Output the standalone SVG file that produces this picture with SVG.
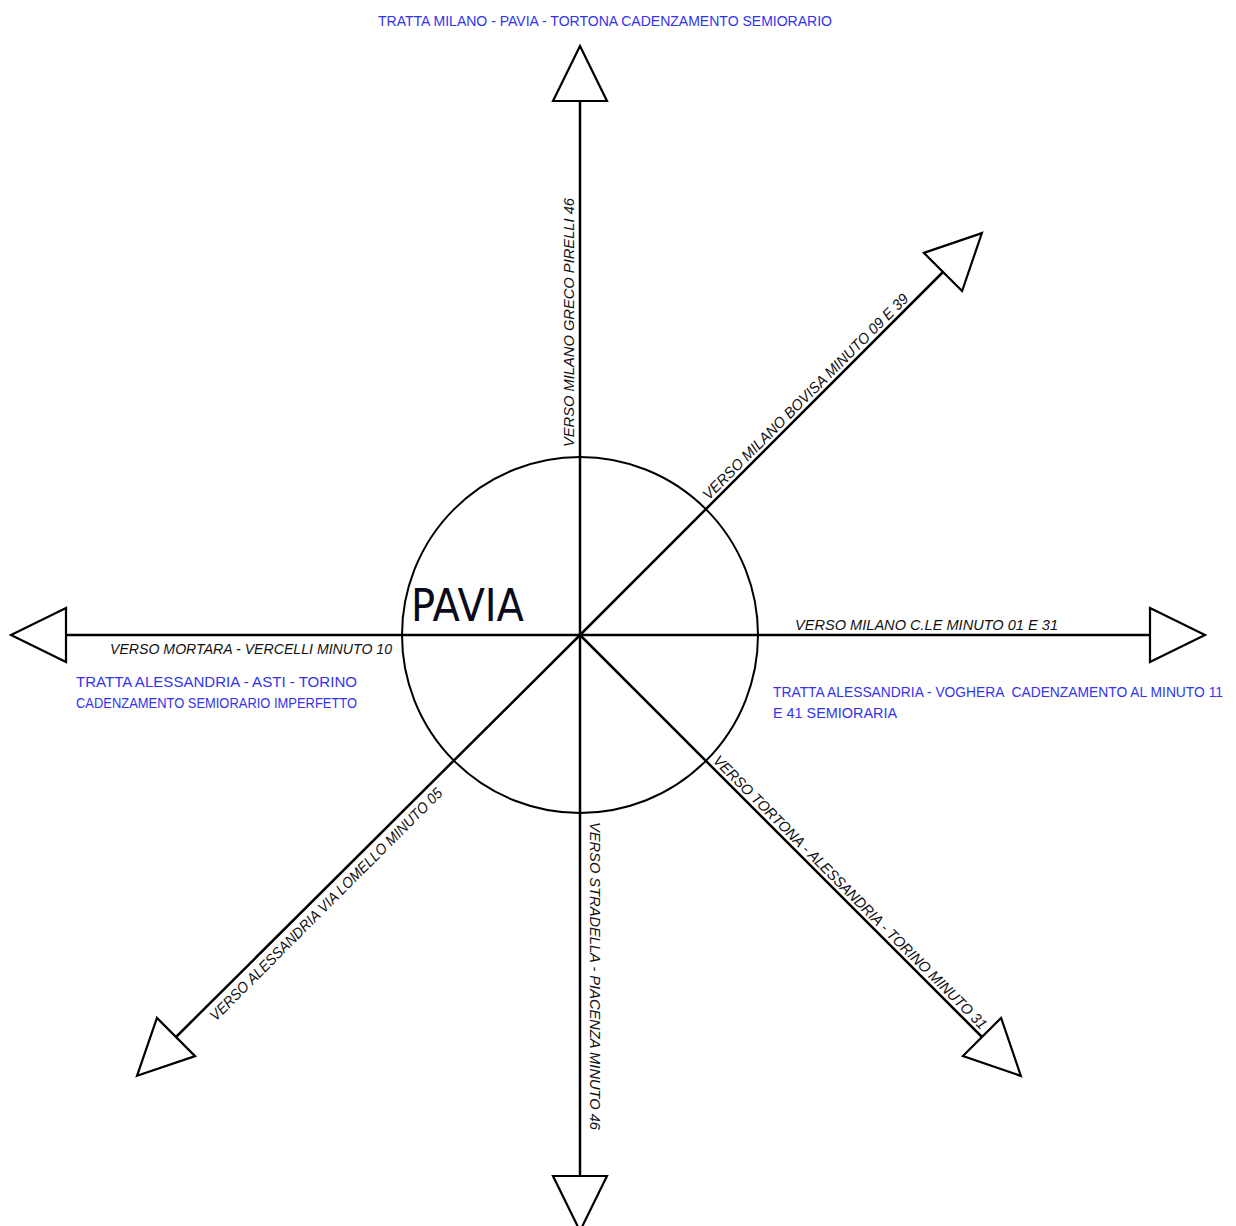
<svg xmlns="http://www.w3.org/2000/svg" width="1236" height="1226" viewBox="0 0 1236 1226">
<style>
.ln{stroke:#000;stroke-width:2.5;fill:none;marker-end:url(#tri)}
.lbl{font-family:"Liberation Sans",Arial,sans-serif;font-style:italic;font-size:15px;fill:#111}
.blue{font-family:"Liberation Sans",Arial,sans-serif;font-size:15px;fill:#3333ee}
</style>
<defs>
<marker id="tri" markerUnits="userSpaceOnUse" refX="0" refY="0" markerWidth="60" markerHeight="60" orient="auto" overflow="visible">
<path d="M0,-27 L55,0 L0,27 Z" fill="#fff" stroke="#000" stroke-width="2.2" stroke-linejoin="miter"/>
</marker>
</defs>
<rect width="1236" height="1226" fill="#fff"/>
<g id="pavia">
<circle cx="580" cy="635" r="178" fill="none" stroke="#000" stroke-width="2"/>
<text x="411" y="621" font-family="'DejaVu Sans',sans-serif" font-size="44" textLength="113" lengthAdjust="spacingAndGlyphs" fill="#0a0a1a">PAVIA</text>
</g>
<g id="connectors">
<line class="ln" x1="580" y1="635" x2="580" y2="101"/>
<line class="ln" x1="580" y1="635" x2="943" y2="272"/>
<line class="ln" x1="580" y1="635" x2="1150" y2="635"/>
<line class="ln" x1="580" y1="635" x2="982" y2="1037"/>
<line class="ln" x1="580" y1="635" x2="580" y2="1176"/>
<line class="ln" x1="580" y1="635" x2="176" y2="1037"/>
<line class="ln" x1="580" y1="635" x2="66" y2="635"/>
</g>
<g id="labels">
<text class="lbl" transform="translate(580,635) rotate(-90)" x="188" y="-6" textLength="249" lengthAdjust="spacingAndGlyphs">VERSO MILANO GRECO PIRELLI 46</text>
<text class="lbl" transform="translate(580,635) rotate(-45)" x="186" y="-4" textLength="284" lengthAdjust="spacingAndGlyphs">VERSO MILANO BOVISA MINUTO 09 E 39</text>
<text class="lbl" x="795" y="630" textLength="263" lengthAdjust="spacingAndGlyphs">VERSO MILANO C.LE MINUTO 01 E 31</text>
<text class="lbl" transform="translate(580,635) rotate(45)" x="183" y="-4" textLength="380" lengthAdjust="spacingAndGlyphs">VERSO TORTONA - ALESSANDRIA - TORINO MINUTO 31</text>
<text class="lbl" transform="translate(580,635) rotate(90)" x="187" y="-10" textLength="308" lengthAdjust="spacingAndGlyphs">VERSO STRADELLA - PIACENZA MINUTO 46</text>
<text class="lbl" transform="translate(580,635) rotate(-45)" x="-531" y="16" textLength="322" lengthAdjust="spacingAndGlyphs">VERSO ALESSANDRIA VIA LOMELLO MINUTO 05</text>
<text class="lbl" x="110" y="654" textLength="282" lengthAdjust="spacingAndGlyphs">VERSO MORTARA - VERCELLI MINUTO 10</text>
</g>
<g id="notes">
<text class="blue" x="378" y="26" textLength="454" lengthAdjust="spacingAndGlyphs">TRATTA MILANO - PAVIA - TORTONA CADENZAMENTO SEMIORARIO</text>
<text class="blue" x="76" y="687" textLength="281" lengthAdjust="spacingAndGlyphs">TRATTA ALESSANDRIA - ASTI - TORINO</text>
<text class="blue" x="76" y="708" textLength="281" lengthAdjust="spacingAndGlyphs">CADENZAMENTO SEMIORARIO IMPERFETTO</text>
<text class="blue" x="773" y="697" font-size="14" style="font-size:14px" textLength="450" lengthAdjust="spacingAndGlyphs" xml:space="preserve">TRATTA ALESSANDRIA - VOGHERA  CADENZAMENTO AL MINUTO 11</text>
<text class="blue" x="773" y="718" textLength="124" lengthAdjust="spacingAndGlyphs">E 41 SEMIORARIA</text>
</g>
</svg>
